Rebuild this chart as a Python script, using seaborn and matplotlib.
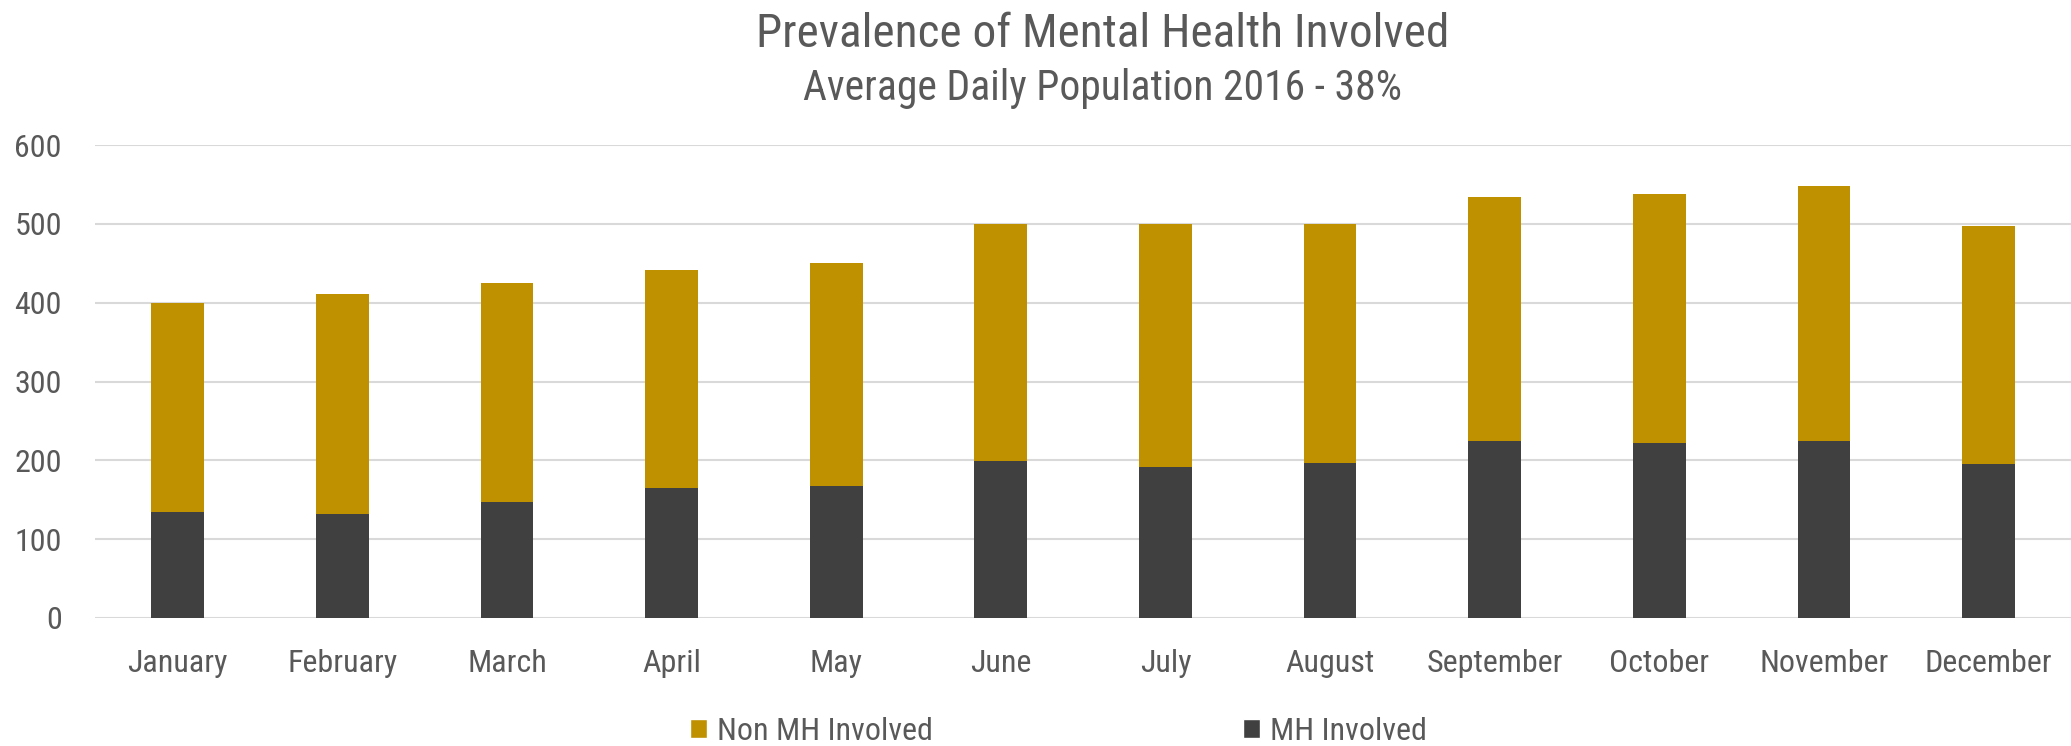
import matplotlib
matplotlib.use("Agg")
import matplotlib.pyplot as plt
import seaborn as sns
import numpy as np
import pandas as pd
from matplotlib.patches import Patch

# values
months = ["January", "February", "March", "April", "May", "June",
          "July", "August", "September", "October", "November", "December"]
mh_involved = [135, 132, 147, 165, 168, 199, 192, 197, 225, 222, 224, 195]
non_mh_involved = [265, 279, 278, 276, 282, 301, 308, 303, 309, 316, 324, 302]

gold = "#BF9000"
dark = "#404040"
text_col = "#595959"

df = pd.DataFrame({"Month": months,
                   "MH": mh_involved,
                   "NonMH": non_mh_involved})
df["Total"] = df["MH"] + df["NonMH"]

sns.set_style("white")
plt.rcParams["font.family"] = ["Roboto Condensed", "DejaVu Sans"]

fig = plt.figure(figsize=(20.71, 7.46), dpi=100)
ax = fig.add_axes([0.046, 0.1716, 0.954, 0.634])

# stacked: full height in gold first, MH part drawn over the bottom
sns.barplot(data=df, x="Month", y="Total", color=gold, width=0.32,
            saturation=1, linewidth=0, ax=ax, zorder=3)
sns.barplot(data=df, x="Month", y="MH", color=dark, width=0.32,
            saturation=1, linewidth=0, ax=ax, zorder=4)

ax.set_ylim(0, 600)
ax.set_xlim(-0.5, len(months) - 0.5)
ax.set_yticks(np.arange(0, 601, 100))
ax.yaxis.grid(True, color="#D9D9D9", linewidth=1.5, zorder=0)
ax.set_axisbelow(True)
for s in ax.spines.values():
    s.set_visible(False)
ax.set_xlabel("")
ax.set_ylabel("")
ax.tick_params(axis="y", length=0, pad=24, labelsize=23, labelcolor=text_col)
ax.tick_params(axis="x", length=0, pad=22, labelsize=23, labelcolor=text_col)

fig.text(0.5325, 0.937, "Prevalence of Mental Health Involved", ha="center",
         va="baseline", fontsize=34, color=text_col)
fig.text(0.5325, 0.866, "Average Daily Population 2016 - 38%", ha="center",
         va="baseline", fontsize=30, color=text_col)

handles = [Patch(facecolor=gold, label="Non MH Involved"),
           Patch(facecolor=dark, label="MH Involved")]
fig.legend(handles=handles, loc="center", bbox_to_anchor=(0.511, 0.02),
           ncol=2, frameon=False, fontsize=23, labelcolor=text_col,
           handlelength=0.55, handleheight=0.55, handletextpad=0.3,
           columnspacing=9.7)

fig.savefig("out.png", dpi=100)
